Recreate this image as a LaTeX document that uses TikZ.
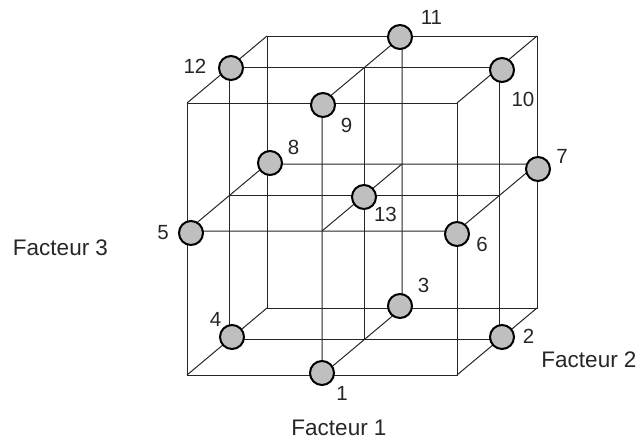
\documentclass[tikz,border=0pt]{standalone}
\usepackage{fontspec}
\setmainfont{Liberation Sans}
\begin{document}
\begin{tikzpicture}[x=1pt,y=-1pt,
  edge/.style={draw=black!85, line width=1pt},
  pt/.style={circle, draw=black, line width=2pt, fill=black!25, minimum size=24pt, inner sep=0pt},
  num/.style={anchor=base, inner sep=0pt, font=\fontsize{20.5}{21}\selectfont, text=black!85},
  fac/.style={anchor=base, inner sep=0pt, font=\fontsize{22.5}{24}\selectfont, text=black!85}]
\useasboundingbox (0,0) rectangle (641,445);
% grid coordinates: front face
\coordinate (FLB) at (187,375); \coordinate (FMB) at (322,375); \coordinate (FRB) at (457,375);
\coordinate (FLM) at (187,231); \coordinate (FMM) at (322,231); \coordinate (FRM) at (457,231);
\coordinate (FLT) at (187,103); \coordinate (FMT) at (322,103); \coordinate (FRT) at (457,103);
% mid-depth plane
\coordinate (CLB) at (229,339); \coordinate (CMB) at (364,339); \coordinate (CRB) at (499,339);
\coordinate (CLM) at (229,195); \coordinate (CMM) at (364,195); \coordinate (CRM) at (499,195);
\coordinate (CLT) at (229,67);  \coordinate (CMT) at (364,67);  \coordinate (CRT) at (499,67);
% back face
\coordinate (BLB) at (267,308); \coordinate (BMB) at (402,308); \coordinate (BRB) at (537,308);
\coordinate (BLM) at (267,164); \coordinate (BMM) at (402,164); \coordinate (BRM) at (537,164);
\coordinate (BLT) at (267,36);  \coordinate (BMT) at (402,36);  \coordinate (BRT) at (537,36);
% cube
\draw[edge] (FLB) -- (FRB) -- (FRT) -- (FLT) -- cycle;
\draw[edge] (BLB) -- (BRB) -- (BRT) -- (BLT) -- cycle;
\draw[edge] (FLB) -- (BLB) (FRB) -- (BRB) (FRT) -- (BRT) (FLT) -- (BLT);
% mid-depth plane
\draw[edge] (CLB) -- (CRB) -- (CRT) -- (CLT) -- cycle;
\draw[edge] (CLM) -- (CRM) (CMB) -- (CMT);
% mid-height plane
\draw[edge] (FLM) -- (FRM) -- (BRM) -- (BLM) -- cycle;
\draw[edge] (FMM) -- (BMM);
% mid-width plane
\draw[edge] (FMB) -- (FMT) -- (BMT) -- (BMB) -- cycle;
% points
\node[pt] (p1) at (322,373) {};
\node[pt] (p2) at (502,337) {};
\node[pt] (p3) at (400,306) {};
\node[pt] (p4) at (232,337) {};
\node[pt] (p5) at (191,233) {};
\node[pt] (p6) at (457,234) {};
\node[pt] (p7) at (538,169) {};
\node[pt] (p8) at (270,163) {};
\node[pt] (p9) at (323,105) {};
\node[pt] (p10) at (502,70) {};
\node[pt] (p11) at (400,37) {};
\node[pt] (p12) at (231,68) {};
\node[pt] (p13) at (364,197) {};
% labels
\node[num] (l1) at (342,400) {1};
\node[num] (l2) at (528.5,343) {2};
\node[num] (l3) at (423.5,292) {3};
\node[num] (l4) at (215.5,326) {4};
\node[num] (l5) at (163,239) {5};
\node[num] (l6) at (482,251) {6};
\node[num] (l7) at (562,163) {7};
\node[num] (l8) at (293.5,154) {8};
\node[num] (l9) at (346.5,132) {9};
\node[num] (l10) at (523,106) {10};
\node[num] (l11) at (431.5,24) {11};
\node[num] (l12) at (195,73) {12};
\node[num] (l13) at (385.5,221) {13};
\node[fac] (f3) at (60.5,255) {Facteur 3};
\node[fac] (f1) at (339,435) {Facteur 1};
\node[fac] (f2) at (589,367) {Facteur 2};
\end{tikzpicture}
\end{document}
